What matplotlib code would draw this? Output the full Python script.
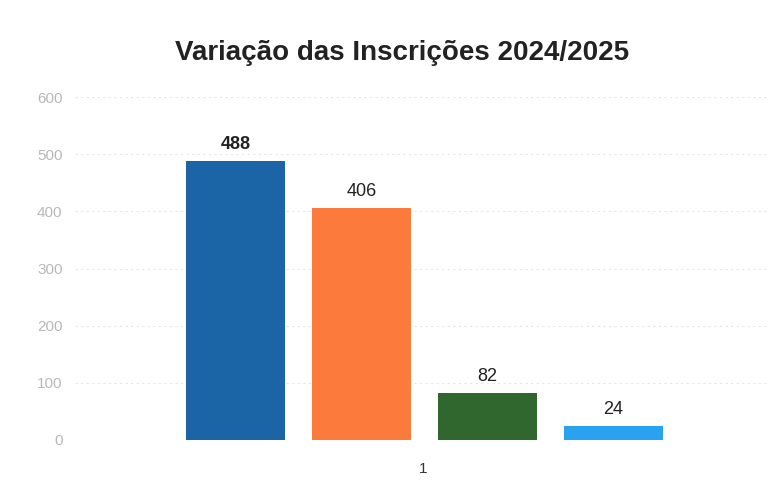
import matplotlib
matplotlib.use("Agg")
import matplotlib.pyplot as plt
import numpy as np

plt.rcParams['font.family'] = ['Liberation Sans', 'DejaVu Sans']

categories = ["1"]
series_values = [488, 406, 82, 24]
series_colors = ["#1b65a6", "#fb7a3c", "#2f672f", "#2aa2ef"]
label_bold = [True, False, False, False]
yticks = [0, 100, 200, 300, 400, 500, 600]
title = "Variação das Inscrições 2024/2025"

fig = plt.figure(figsize=(7.77, 4.91), dpi=100)
ax = fig.add_axes([0.0965, 0.104, 0.895, 0.698])

n = len(series_values)
slot = 1.0
width = 0.79
offsets = (np.arange(n) - (n - 1) / 2) * slot + 0.015
for i, (v, c) in enumerate(zip(series_values, series_colors)):
    ax.bar(offsets[i], v, width=width, color=c, zorder=3)
    ax.text(offsets[i], v + 14, str(v), ha='center', va='bottom',
            fontsize=13, fontweight='bold' if label_bold[i] else 'normal',
            color='#222222')

ax.set_xlim(-2.76, 2.76)
ax.set_ylim(0, 600)
ax.set_yticks(yticks)
ax.set_yticklabels([str(t) for t in yticks], color='#b8b8b8', fontsize=11)
ax.set_xticks([0])
ax.set_xticklabels(categories, fontsize=11, color='#333333')
ax.tick_params(axis='both', length=0)
ax.tick_params(axis='y', pad=9)
ax.tick_params(axis='x', pad=16)
ax.grid(axis='y', color='#e6e6e6', linestyle=(0, (2, 3)), linewidth=0.8, zorder=0)
for s in ax.spines.values():
    s.set_visible(False)

fig.text(0.518, 0.893, title, ha='center', va='center', fontsize=20,
         fontweight='bold', color='#222222')

fig.savefig("out.png", dpi=100, facecolor='white')
